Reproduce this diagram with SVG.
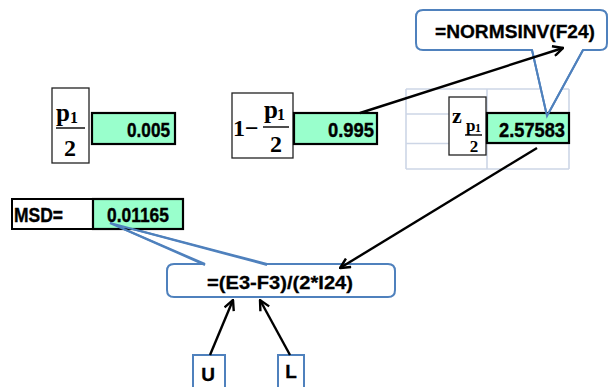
<svg xmlns="http://www.w3.org/2000/svg" width="608" height="387" viewBox="0 0 608 387">
<style>
.frac{fill:#fff;stroke:#222;stroke-width:1.3}
.val{fill:#99ffcc;stroke:#000;stroke-width:2.2}
.num{font-family:"Liberation Sans",Arial,sans-serif;font-weight:bold;font-size:21px;fill:#000;stroke:#000;stroke-width:0.4}
.ser{font-family:"Liberation Serif","Times New Roman",serif;font-weight:bold;fill:#000}
.call{fill:#fff;stroke:#4f81bd;stroke-width:2}
.tail{fill:none;stroke:#4f81bd;stroke-width:2}
.ctext{font-family:"Liberation Sans",Arial,sans-serif;font-weight:bold;font-size:19px;fill:#000;stroke:#000;stroke-width:0.3}
.grid{stroke:#cdd6e6;stroke-width:1.6;fill:none}
.arr{stroke:#000;stroke-width:2.4;fill:none;marker-end:url(#ah)}
.fl{stroke:#000;stroke-width:1.4}
</style>
<defs>
<marker id="ah" viewBox="0 0 12 12" refX="11" refY="6" markerWidth="12" markerHeight="12" orient="auto" markerUnits="userSpaceOnUse">
<path d="M1,1 L11,6 L1,11" fill="none" stroke="#000" stroke-width="2.4"/>
</marker>
</defs>
<rect width="608" height="387" fill="#fff"/>

<g id="grid">
<path class="grid" d="M406,89 V169 M487,89 V169 M569,89 V169 M406,89 H569 M406,114 H569 M406,143.5 H569 M406,169 H569"/>
</g>

<g id="callout-normsinv">
<path class="call" d="M423,10 H600 Q607,10 607,17 V43 Q607,50 600,50 H583 L547,116 L532,50 H423 Q416,50 416,43 V17 Q416,10 423,10 Z"/>
<text class="ctext" x="515" y="38" text-anchor="middle" textLength="160" lengthAdjust="spacingAndGlyphs">=NORMSINV(F24)</text>
</g>

<g id="callout-formula">
<path class="call" d="M174,264 H205 L110,223 L267,264 H388 Q395,264 395,271 V290 Q395,297 388,297 H174 Q167,297 167,290 V271 Q167,264 174,264 Z"/>
<text class="ctext" x="280" y="289" text-anchor="middle" textLength="146" lengthAdjust="spacingAndGlyphs">=(E3-F3)/(2*I24)</text>
</g>

<g id="p-half">
<rect class="frac" x="52" y="88" width="37" height="75"/>
<text class="ser" x="56" y="121" font-size="25">p</text>
<text class="ser" x="70" y="123" font-size="16">1</text>
<line class="fl" x1="56" y1="128" x2="85" y2="128"/>
<text class="ser" x="70" y="156" font-size="24" text-anchor="middle">2</text>
</g>
<g id="p-half-val">
<rect class="val" x="92" y="113" width="83" height="31"/>
<text class="num" x="170" y="137" text-anchor="end" textLength="43" lengthAdjust="spacingAndGlyphs">0.005</text>
</g>

<g id="one-minus">
<rect class="frac" x="232" y="93" width="61" height="65"/>
<text class="ser" x="233" y="136" font-size="24">1−</text>
<text class="ser" x="264" y="118" font-size="25">p</text>
<text class="ser" x="277" y="120" font-size="16">1</text>
<line class="fl" x1="263" y1="127" x2="289" y2="127"/>
<text class="ser" x="276" y="152" font-size="24" text-anchor="middle">2</text>
</g>
<g id="one-minus-val">
<rect class="val" x="294" y="113" width="83" height="31"/>
<text class="num" x="374" y="137" text-anchor="end" textLength="46" lengthAdjust="spacingAndGlyphs">0.995</text>
</g>

<g id="z-label">
<rect class="frac" x="449" y="97" width="37" height="58"/>
<text class="ser" x="452" y="123" font-size="22">z</text>
<text class="ser" x="466" y="131" font-size="17">p</text>
<text class="ser" x="475" y="132" font-size="12">1</text>
<line class="fl" x1="465" y1="135" x2="482" y2="135"/>
<text class="ser" x="474" y="152" font-size="17" text-anchor="middle">2</text>
</g>
<g id="z-val">
<rect class="val" x="487" y="113" width="82" height="30"/>
<text class="num" x="565" y="137" text-anchor="end" textLength="66" lengthAdjust="spacingAndGlyphs">2.57583</text>
</g>

<g id="msd">
<rect x="12" y="199" width="81" height="30" fill="#fff" stroke="#000" stroke-width="2"/>
<text class="num" x="14" y="222" textLength="49" lengthAdjust="spacingAndGlyphs">MSD=</text>
</g>
<g id="msd-val">
<rect class="val" x="93" y="199" width="90" height="30"/>
<text class="num" x="169" y="222" text-anchor="end" textLength="62" lengthAdjust="spacingAndGlyphs">0.01165</text>
</g>

<g id="tails">
<polyline class="tail" points="205,265 110,223 267,265"/>
<polyline class="tail" points="532,50 547,116 583,50"/>
</g>

<g id="U">
<rect x="193" y="355" width="32" height="40" fill="#fff" stroke="#4f81bd" stroke-width="2"/>
<text class="ctext" x="208" y="381" text-anchor="middle" font-size="17">U</text>
</g>
<g id="L">
<rect x="278" y="355" width="26" height="40" fill="#fff" stroke="#4f81bd" stroke-width="2"/>
<text class="ctext" x="291" y="378" text-anchor="middle" font-size="17">L</text>
</g>

<g id="connectors">
<line class="arr" x1="360" y1="113" x2="563" y2="48"/>
<line class="arr" x1="537" y1="148" x2="340" y2="268"/>
<line class="arr" x1="210" y1="355" x2="233" y2="300"/>
<line class="arr" x1="290" y1="355" x2="260" y2="300"/>
</g>
</svg>
